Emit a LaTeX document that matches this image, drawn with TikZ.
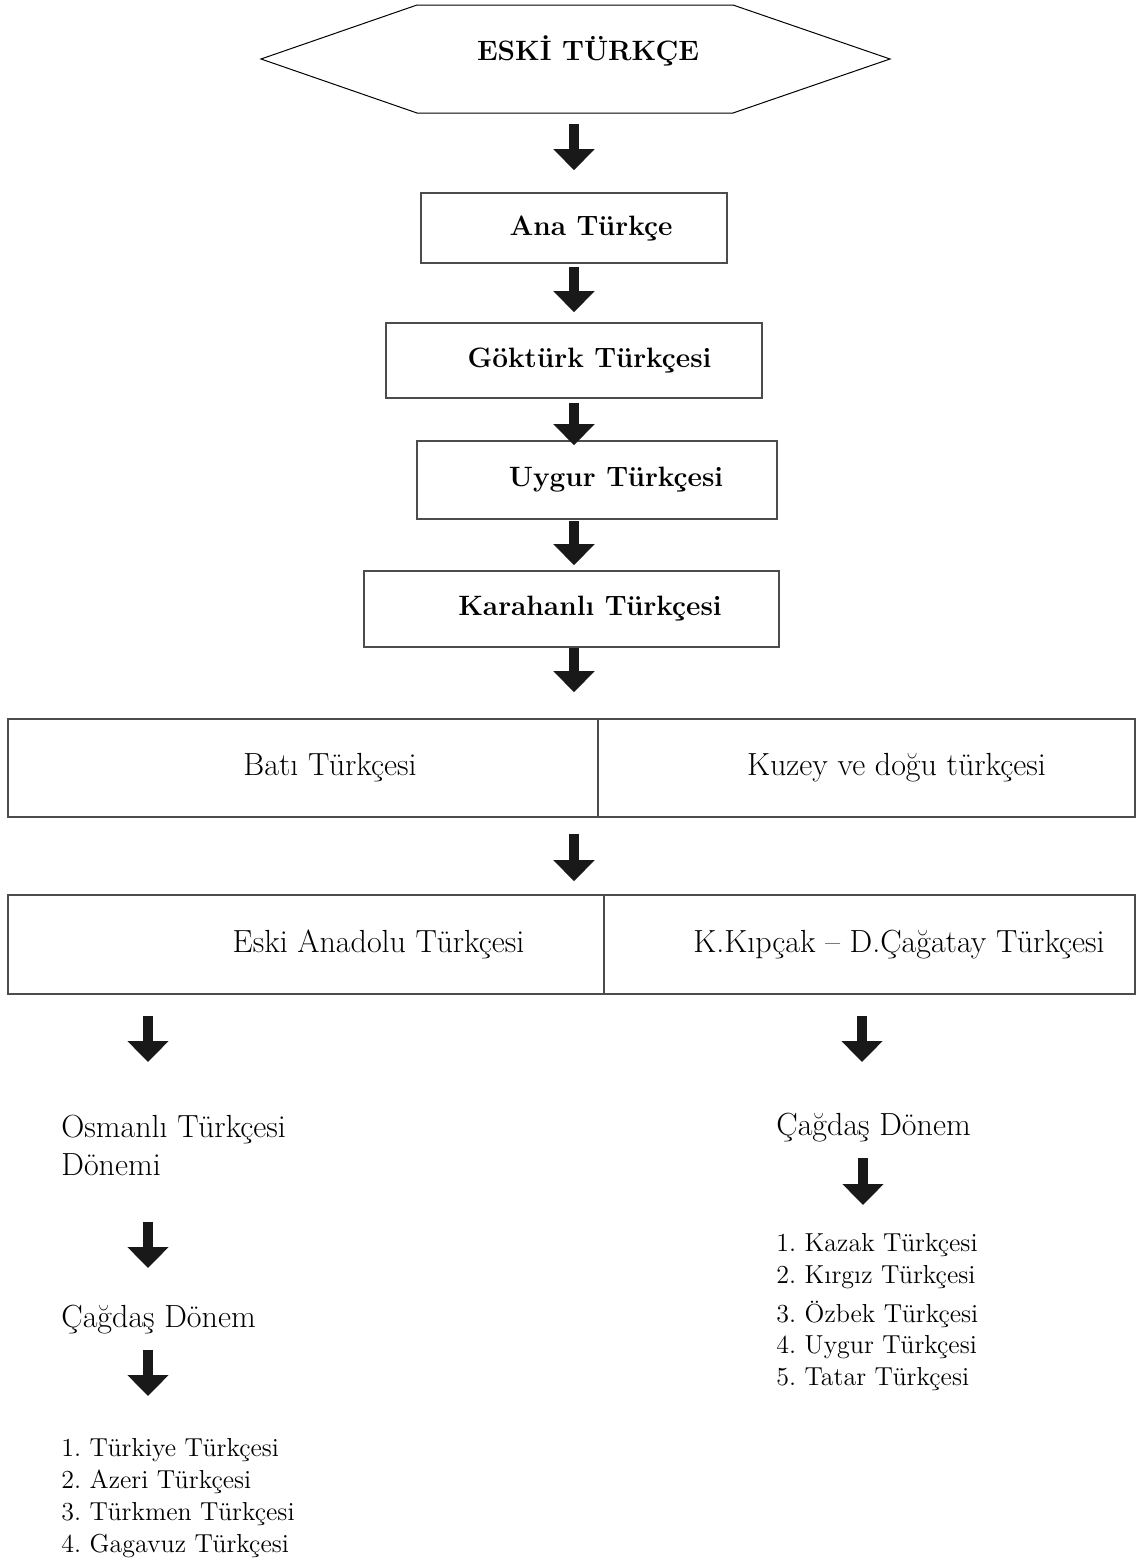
\documentclass[tikz,border=0pt]{standalone}
\usepackage{fontspec}
\usepackage{tikz}
\usetikzlibrary{arrows.meta}
\usetikzlibrary{calc}

\tikzset{
  bigarrow/.style={line width=5pt, draw=black!90, -{Triangle[width=20pt,length=10.5pt]}},
  hexline/.style={draw=black, line width=0.5pt},
  stagebox/.style={draw=black!70, line width=0.8pt, inner sep=0pt, font=\fontsize{14}{17}\selectfont\bfseries},
  halfbox/.style={draw=black!70, line width=0.8pt, inner sep=0pt, minimum height=49pt, font=\fontsize{16}{19}\selectfont},
  lbl/.style={inner sep=0pt, anchor=base west, align=left, font=\fontsize{16}{19}\selectfont},
  listlbl/.style={inner sep=0pt, anchor=base west, align=left, font=\fontsize{13}{16}\selectfont}
}

\begin{document}
\frenchspacing
\begin{tikzpicture}[x=0.5pt,y=-0.5pt]
    \useasboundingbox (0,0) rectangle (1136,1563);
    % top of the tree
    \draw [hexline] (261,59) -- (417,5) -- (733,5) -- (890,59) -- (733,113) -- (417,113) -- cycle;
    \coordinate (hexbot) at (574,113);
    \node [inner sep=0pt, anchor=base, font=\fontsize{14}{17}\selectfont\bfseries] (eski) at (588,61) {ESKİ TÜRKÇE};
    \node [stagebox, minimum width=153pt, minimum height=35pt] (ana) at (574,228) {\hspace*{17pt}Ana Türkçe};
    \node [stagebox, minimum width=188pt, minimum height=37.5pt] (gok) at (574,360.5) {\hspace*{15.5pt}Göktürk Türkçesi};
    \node [stagebox, minimum width=180pt, minimum height=39pt] (uyg) at (597,480) {\hspace*{19pt}Uygur Türkçesi};
    \node [stagebox, minimum width=207.5pt, minimum height=38pt] (kara) at (571.5,609) {\hspace*{18.5pt}Karahanlı Türkçesi};
    % the two branches
    \node [halfbox, minimum width=295pt] (bati) at (303,768) {\hspace*{27pt}Batı Türkçesi};
    \node [halfbox, minimum width=268.5pt] (kuzey) at (866.5,768) {\hspace*{30pt}Kuzey ve doğu türkçesi};
    \node [halfbox, minimum width=298pt, minimum height=49.5pt] (anadolu) at (306,944.5) {\hspace*{72.5pt}Eski Anadolu Türkçesi};
    \node [halfbox, minimum width=265.5pt, minimum height=49.5pt] (kipcak) at (869.5,944.5) {\hspace*{29.5pt}K.Kıpçak – D.Çağatay Türkçesi};
    % west side (base = last line)
    \node [lbl] (osmanli) at (61,1175) {Osmanlı Türkçesi\\Dönemi};
    \node [lbl] (cagdasl) at (61,1327) {Çağdaş Dönem};
    \node [listlbl] (listl) at (61,1552) {1. Türkiye Türkçesi\\2. Azeri Türkçesi\\3. Türkmen Türkçesi\\4. Gagavuz Türkçesi};
    % east side
    \node [lbl] (cagdasr) at (776,1135) {Çağdaş Dönem};
    \node [listlbl, font=\fontsize{13}{15.75}\selectfont] (listr) at (776,1385) {1. Kazak Türkçesi\\2. Kırgız Türkçesi\\[3.75pt]3. Özbek Türkçesi\\4. Uygur Türkçesi\\5. Tatar Türkçesi};
    % free arrows under the branches
    \coordinate (l1) at (148,1016);
    \coordinate (l1e) at (148,1062);
    \coordinate (l2) at (148,1222);
    \coordinate (l2e) at (148,1268);
    \coordinate (l3) at (148,1350);
    \coordinate (l3e) at (148,1396);
    \coordinate (r1) at (862,1016);
    \coordinate (r1e) at (862,1062);
    \coordinate (r2) at (863,1158);
    \coordinate (r2e) at (863,1205);
    \draw [bigarrow, shorten <=5.5pt, shorten >=11pt] (hexbot) -- (ana);
    \draw [bigarrow, shorten <=1.5pt, shorten >=5pt] (ana) -- (gok);
    \draw [bigarrow, shorten <=2pt, shorten >=-2.5pt] (gok) -- (gok |- uyg.north);
    \draw [bigarrow, shorten <=0.5pt, shorten >=2.5pt] (uyg.south -| gok) -- (kara.north -| gok);
    \draw [bigarrow, shorten >=13pt] (kara.south -| gok) -- (bati.north -| gok);
    \draw [bigarrow, shorten <=8pt, shorten >=6.5pt] (bati.south -| gok) -- (anadolu.north -| gok);
    \draw [bigarrow] (l1) -- (l1e);
    \draw [bigarrow] (l2) -- (l2e);
    \draw [bigarrow] (l3) -- (l3e);
    \draw [bigarrow] (r1) -- (r1e);
    \draw [bigarrow] (r2) -- (r2e);
\end{tikzpicture}
\end{document}
